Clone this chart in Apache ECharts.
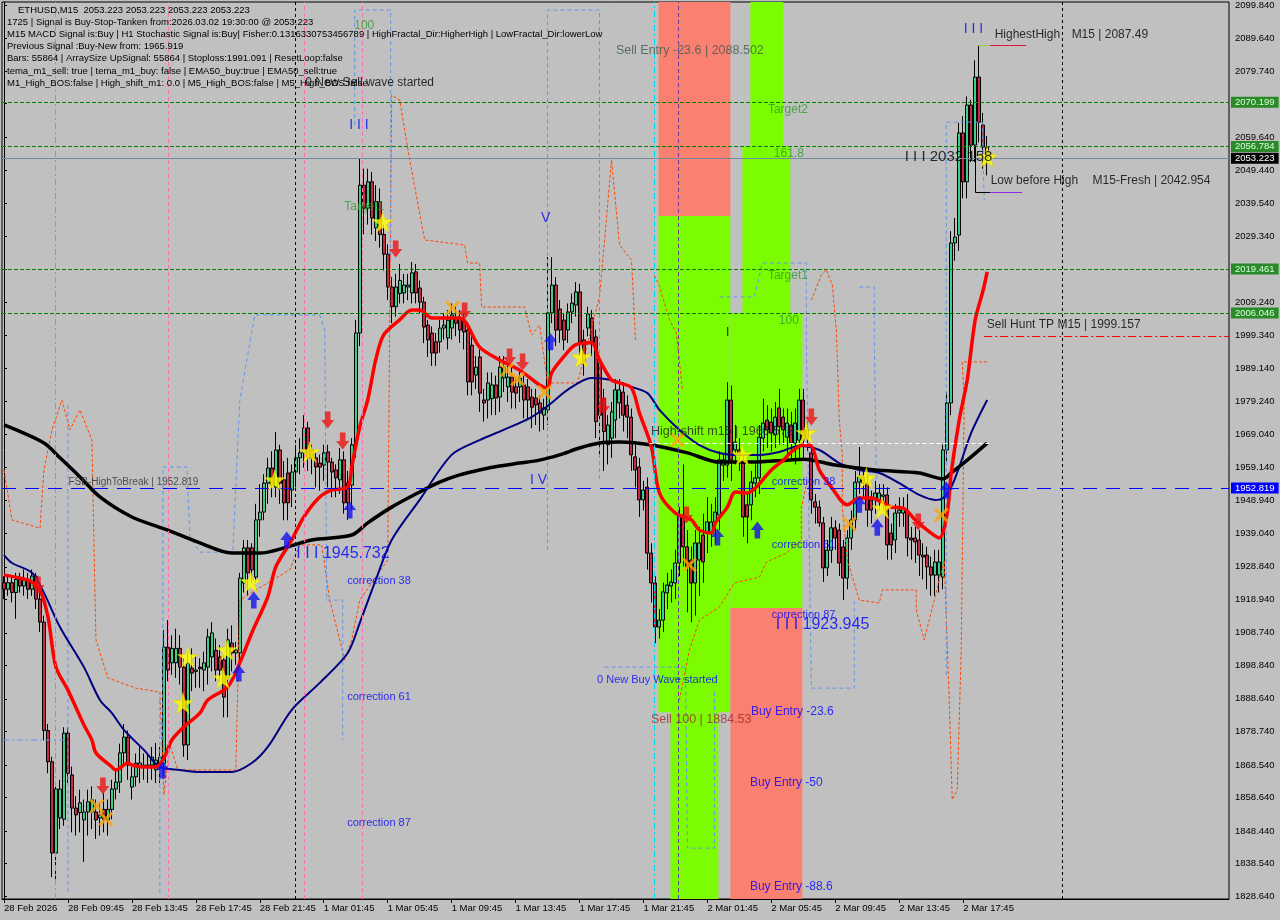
<!DOCTYPE html>
<html><head><meta charset="utf-8">
<script src="https://cdn.jsdelivr.net/npm/echarts@6/dist/echarts.min.js"></script>
<style>html,body{margin:0;padding:0;background:#c0c0c0}#c{width:1280px;height:920px}</style>
</head><body><div id="c"></div>
<script>
// ---------- data ----------
const FONT = '"Liberation Sans", Arial, sans-serif';
const startTime = Date.UTC(2026, 1, 28, 5, 45);
const slotCount = 307;
const categories = [];
for (let i = 0; i < slotCount; i++) {
  const d = new Date(startTime + i * 15 * 60000);
  categories.push(d.toISOString().slice(0, 16).replace('T', ' '));
}
const xTickLabels = ['28 Feb 2026','28 Feb 09:45','28 Feb 13:45','28 Feb 17:45','28 Feb 21:45','1 Mar 01:45','1 Mar 05:45','1 Mar 09:45','1 Mar 13:45','1 Mar 17:45','1 Mar 21:45','2 Mar 01:45','2 Mar 05:45','2 Mar 09:45','2 Mar 13:45','2 Mar 17:45'];
const yTickValues = [2099.84,2089.64,2079.74,2069.84,2059.64,2049.44,2039.54,2029.34,2019.44,2009.24,1999.34,1989.14,1979.24,1969.04,1959.14,1948.94,1939.04,1928.84,1918.94,1908.74,1898.84,1888.64,1878.74,1868.54,1858.64,1848.44,1838.54,1828.64];
const yLabelValues = [2099.84,2089.64,2079.74,2059.64,2049.44,2039.54,2029.34,2009.24,1999.34,1989.14,1979.24,1969.04,1959.14,1948.94,1939.04,1928.84,1918.94,1908.74,1898.84,1888.64,1878.74,1868.54,1858.64,1848.44,1838.54,1828.64];

// candles: [open, close, low, high]
const candles = [
[1924,1922,1919,1926],[1922,1924,1920,1926],[1924,1921,1918,1926],[1921,1925,1913,1927],[1925,1923,1921,1927],
[1923,1925,1920,1928],[1925,1922,1919,1927],[1922,1926,1920,1928],[1926,1919,1916,1927],[1919,1912,1909,1921],
[1912,1879,1876,1914],[1879,1869.5,1866,1881],[1869.5,1841.7,1834.4,1871],[1841.7,1861.2,1833,1863],[1852.4,1861.2,1849,1864],
[1852,1878.2,1850,1880],[1878.2,1866,1863,1880],[1865.5,1855.4,1848,1868],[1855.4,1853.3,1847,1859],[1854,1857,1848,1861],
[1851.8,1854.2,1839,1858],[1854.2,1857.3,1847,1861],[1854.2,1857.9,1849,1862],[1854.2,1851.8,1846,1858],[1852.4,1853.3,1847,1857],
[1855,1852,1848,1860],[1851.8,1855,1847,1858],[1855,1861.2,1852,1864],[1861.2,1863.3,1858,1867],[1863.3,1872.2,1860,1875],
[1872.2,1877,1868,1881],[1877,1868.5,1864,1879],[1861.8,1864.9,1858,1868],[1864.9,1869.1,1862,1872],[1867.9,1869.1,1863,1874],
[1867.9,1868.5,1864,1872],[1868.5,1868.2,1863,1872],[1868.5,1870.9,1864,1874],[1867,1870,1863,1875.2],[1868.5,1870.9,1863,1874],
[1869,1904.4,1865,1909.6],[1904.4,1897.4,1894,1912.6],[1899.6,1904,1896,1908],[1899.6,1904,1895,1910],[1904,1898.3,1893,1908],
[1898.3,1874.6,1871,1901],[1874.6,1899.6,1870,1903],[1898,1896.5,1891,1904],[1897,1897.4,1892,1902],[1898.3,1897.8,1892,1901],
[1897.4,1899.6,1891,1903],[1898.3,1907.5,1893,1910],[1901.4,1908.7,1897,1912],[1903.4,1897.4,1894,1907],[1901.4,1897.4,1894,1905],
[1900.5,1889.2,1883,1902],[1895,1906.6,1883,1910],[1905.6,1902.6,1897,1911],[1902.6,1903.5,1899,1906],[1902.6,1925.4,1899,1927],
[1923.9,1934.6,1921,1937],[1934.6,1927,1920,1937],[1934.6,1927.9,1924,1936],[1925.7,1943.1,1924,1948],[1943.1,1945.5,1938,1954],
[1945.5,1954.3,1943,1957],[1954.3,1958.9,1948,1962],[1958.9,1953.7,1950,1964],[1953.1,1964.4,1950,1969.9],[1964.4,1954.3,1948,1966],
[1955.3,1948.3,1943,1961],[1957.4,1948.3,1943,1962],[1952.2,1957.7,1947,1960],[1957.7,1962,1953,1966],[1962,1963.5,1957,1968],
[1963.5,1971.1,1959,1975],[1971.1,1962,1958,1973],[1964.4,1962,1957,1966],[1962,1959.2,1953,1964],[1960.4,1959.2,1952,1963],
[1959.8,1963.5,1955,1966],[1963.8,1960.7,1953,1966],[1960.7,1957.7,1950,1962],[1958.3,1955.9,1950,1960],[1955.3,1961.4,1951,1965],
[1961.4,1948.3,1945,1964],[1954.3,1948.3,1943.1,1958],[1953.7,1966,1946,1968],[1966,2000,1962,2004],[2000,2045,1996,2053],
[2045,2038,2030,2050],[2038,2046,2033,2050],[2046,2035,2030,2049],[2032,2040,2028,2045],[2040,2030,2026,2044],
[2030,2024,2019,2033],[2024,2014,2010,2027],[2014,2008,2003,2017],[2008,2014,2005,2018],[2012,2016,2009,2021],
[2012.2,2014.6,2009,2018],[2014,2014.6,2010,2018],[2012.2,2018.3,2009,2021.6],[2018.6,2012.2,2009,2021],[2013.7,2009.4,2006,2016],
[2009.4,2001.8,1996.9,2011],[2002.4,1997.9,1992.7,2004],[2000,1993.9,1990,2002],[1997.3,1993.9,1990,2000],[1997.3,2001.5,1994,2004],
[2001.5,2002.4,1998,2006],[1998.5,2003.9,1995,2007],[2001.5,2005.5,1998,2009],[2004.6,2003,1999,2008],[2004.6,2000.9,1997,2007],
[2003.9,2000.3,1995,2006],[2000.9,1985.1,1981,2003],[1996.3,1985.1,1981,1999],[1987.2,1989.6,1983,1993],[1992.7,1981.7,1976,1995],
[1979.6,1978.7,1973,1983],[1979.6,1984.8,1974,1988],[1980,1984.2,1975,1988],[1984.2,1980.2,1975,1987],[1980.5,1989.6,1976,1993],
[1986.3,1989.6,1982,1993],[1983.6,1986.6,1979,1990],[1986.6,1982,1977,1990],[1983.6,1981.7,1977,1986],[1983.6,1986.3,1979,1989],
[1984.2,1979.6,1974,1987],[1983.6,1979.6,1974,1986],[1980.5,1977.4,1971,1983],[1980.2,1978.1,1972,1983],[1978.7,1975.6,1970,1981],
[1975,1977.2,1970.5,1980],[1976.6,2006.1,1972,2023.1],[2006.1,2014.6,2003,2023.1],[2014.6,2000.9,1996,2017],[2007.3,2000.9,1997,2010],
[2003.9,1997.9,1994.8,2006],[2000.9,2006.4,1997,2009],[2006.4,2009.1,2003,2012],[2008.5,2012.5,2005,2015.5],[2012.5,1997.3,1993,2015],
[1997.9,1991,1987,2001],[2001.5,2005.8,1999,2008],[2004.6,1997,1993,2007],[1998.8,1973,1968,2001],[1990.9,1975,1962,1993],
[1980,1970,1958,1983],[1966,1972,1960,1975],[1968,1976,1962,1979],[1973.5,1982.7,1968,1986],[1978.7,1982.7,1974,1986],
[1982,1975,1970,1985],[1978,1974.4,1968,1981],[1974.4,1962.9,1958,1977],[1962.3,1958.3,1953,1966],[1959.2,1949.2,1944,1962],
[1949.2,1952.2,1946,1955],[1953.1,1933,1928,1956],[1933,1923.9,1918,1936],[1923.9,1910.5,1905.6,1926],[1910.5,1912.6,1907,1916],
[1912.6,1921.2,1909,1924],[1920.9,1923.3,1916,1927],[1923,1924.2,1918,1928],[1923.9,1930,1919,1934],[1930,1944.6,1926,1947],
[1944.6,1934.9,1929,1960],[1934.9,1928.8,1915,1940],[1930.9,1923.9,1912,1935],[1923.9,1936.1,1914,1940],[1930.9,1936.1,1920,1941],
[1938.5,1930.3,1924,1945],[1939.1,1942.5,1933,1950],[1939.4,1942.5,1935,1948],[1942.5,1945.5,1936,1950],[1944.6,1961.4,1940,1964],
[1959.8,1961.4,1955,1963],[1959.8,1979.6,1956,1985],[1979.6,1961.4,1955,1984],[1964.4,1966.8,1960,1972],[1964.4,1962.9,1958,1968],
[1960.4,1944,1938,1963],[1947.7,1944,1936,1951],[1947.7,1954.6,1943,1958],[1954.3,1955.9,1950,1960],[1955.9,1968.3,1951,1972],
[1968,1972.6,1964,1980],[1973.5,1970.5,1965,1978],[1972.9,1969.6,1964,1977],[1969,1974.4,1965,1979],[1977.2,1971.4,1966,1983],
[1974.4,1970.5,1966,1977],[1968.3,1972.6,1963,1977],[1972,1966.5,1961,1976],[1966.5,1972.6,1960,1977],[1967.4,1979.6,1962,1983],
[1979.6,1967.4,1962,1983],[1970.5,1968,1964,1973],[1963.5,1949.2,1945,1966],[1948.6,1947,1942,1951],[1947,1942.2,1941,1949],
[1942.2,1928.5,1924.2,1944],[1928.5,1933.9,1926,1937],[1933.9,1940.7,1930,1944],[1940.7,1937.6,1934,1943],[1940,1930,1926,1942],
[1934.9,1925.4,1918.7,1937],[1925.4,1937.6,1922,1940],[1937.6,1943.1,1934,1946],[1943.1,1954.6,1940,1958],[1954.6,1956.2,1951,1965.3],
[1956.2,1954.3,1950,1959],[1954.3,1946.1,1941,1957],[1949.2,1946.1,1942,1952],[1949.2,1951.3,1945,1955],[1949.2,1951.3,1946,1954],
[1950.3,1950.7,1946,1954],[1950.7,1935.5,1931,1953],[1939.1,1935.5,1931,1942],[1937,1945.2,1933,1948],[1945.2,1946.1,1941,1950],
[1945.2,1946.7,1941,1950],[1946.1,1937.6,1932,1951],[1937.6,1937,1931,1941],[1937.6,1936.4,1930,1941],[1937,1932.4,1926,1940],
[1932.4,1931.8,1925,1936],[1932.4,1928.8,1922,1935],[1928.8,1926.3,1920,1932],[1926.3,1930.3,1920,1934],[1926.3,1930.3,1921,1934],
[1925.7,1964.4,1922,1966],[1964.4,1978.7,1961,1982],[1978.7,2027.4,1975,2031],[2027.4,2029.2,2022,2035],[2029.8,2060.9,2025,2064],
[2060.9,2046,2041,2066],[2046,2069.4,2041,2072],[2069.4,2057.2,2052,2071],[2057.2,2077.9,2052,2083],[2077.9,2064.2,2058,2087.49],
[2063.3,2056.6,2050,2067],[2056.6,2053.223,2048,2060]
];

// moving averages: [barIndex, price]
const redLine = [[0,1926.3],[4,1925.4],[7,1924.2],[9,1921.8],[11,1913.6],[13,1898.3],[16,1891.3],[20,1880.7],[22,1876.1],[23,1872.2],[27,1867.9],[28,1867.0],[31,1869.1],[32,1868.5],[35,1867.9],[38,1867.9],[40,1870.6],[42,1876.1],[45,1880.1],[49,1884.3],[51,1888.3],[56,1892.3],[59,1899.6],[62,1908.7],[66,1919.7],[68,1928.8],[72,1937.0],[75,1944.0],[79,1950.1],[82,1952.2],[86,1953.1],[87,1959.2],[89,1971.4],[91,1979.6],[93,1991.8],[95,1999.4],[99,2004.0],[102,2007.0],[104,2007.0],[107,2004.6],[114,2004.6],[119,1995.7],[124,1991.8],[129,1988.7],[134,1984.2],[136,1983.3],[137,1987.8],[140,1992.7],[143,1996.4],[147,1997.0],[149,1991.8],[152,1985.7],[154,1984.8],[157,1983.3],[159,1975.6],[162,1965.3],[164,1951.3],[168,1945.2],[172,1943.1],[174,1940.0],[177,1939.1],[178,1942.2],[181,1947.0],[183,1951.6],[186,1951.3],[188,1952.8],[192,1958.3],[195,1961.3],[197,1963.8],[200,1965.9],[202,1965.6],[204,1958.3],[207,1953.1],[211,1947.7],[214,1949.8],[217,1949.8],[222,1947.0],[225,1946.7],[228,1943.1],[231,1940.0],[234,1937.6],[236,1945.2],[237,1957.4],[239,1973.5],[241,1985.7],[243,2004.0],[245,2013.1],[246,2018.6]];
const navyLine = [[0,1932.4],[2,1930.0],[7,1927.0],[10,1920.9],[14,1910.5],[20,1898.3],[24,1888.3],[27,1884.3],[30,1879.2],[35,1873.1],[39,1867.9],[44,1867.0],[49,1866.4],[57,1866.4],[62,1869.1],[66,1874.0],[72,1885.3],[79,1893.5],[86,1902.6],[89,1911.7],[93,1924.8],[97,1937.0],[104,1949.2],[112,1962.9],[119,1967.4],[125,1970.5],[132,1974.4],[137,1978.7],[141,1982.7],[147,1986.3],[152,1985.7],[157,1983.6],[161,1981.7],[164,1976.6],[169,1970.5],[174,1965.9],[179,1963.5],[184,1962.9],[189,1962.9],[194,1963.8],[199,1965.6],[204,1964.4],[209,1960.4],[214,1958.3],[219,1957.4],[224,1954.3],[229,1950.7],[233,1949.2],[235,1949.8],[237,1953.1],[239,1959.2],[242,1969.6],[246,1979.6]];
const blackLine = [[0,1972.0],[10,1966.5],[14,1962.0],[19,1956.2],[24,1950.1],[32,1944.0],[41,1940.0],[49,1936.1],[57,1933.0],[64,1933.0],[71,1934.9],[77,1937.0],[87,1938.5],[91,1942.2],[97,1947.0],[104,1951.6],[109,1954.6],[114,1956.8],[119,1958.3],[124,1959.5],[129,1960.4],[134,1961.3],[139,1962.9],[144,1965.0],[149,1966.5],[154,1966.8],[162,1965.9],[171,1963.5],[179,1960.7],[187,1960.7],[196,1961.3],[200,1961.6],[208,1959.8],[218,1958.3],[229,1957.4],[235,1955.6],[237,1957.4],[241,1961.3],[246,1966.5]];

// thin dashed channel lines (bar position, price)
const orangePaths = [
 [[0,1958.3],[2,1943.1],[9,1940.6],[10,1958.3],[12,1970.5],[14.5,1979.6],[16.5,1970.5],[19,1976.6],[22,1967.4],[23,1906.6],[26,1895.0],[33,1891.9],[39,1890.7],[40,1859.4],[41.5,1874.6],[43.5,1867.0],[58,1867.0],[59,1918.7],[63,1921.8],[71.5,1927.9],[74,1935.5],[79.5,1935.5],[81.5,1918.7],[85.25,1900.5],[87,1906.6],[89,1918.7],[96,1930.9],[97,2072.4],[99,2070.9],[101.5,2052.7],[105.25,2028.3],[115.25,2026.8],[116,2021.3],[119,2021.3],[119.5,2007.9],[130.25,2007.9],[132,1999.4],[134,2002.4],[136,1984.8],[143.5,1984.8],[149,2011.0],[150.5,2031.4],[152,2052.7],[154,2026.8],[157,2022.2],[158,1997.9]],
 [[162.75,2017.5],[164,2014.2],[166.5,2004.0],[168.25,2000.0],[169.75,1982.7]],
 [[169,1888.3],[171.5,1903.5],[174,1912.6],[179,1916.6],[182.75,1923.9],[189,1925.7],[190.75,1930.3],[195.75,1933.0],[199.5,1937.0],[199.5,1946.7],[201,1955.3]],
 [[202,2010.0],[204.5,2017.7],[205.75,2019.2],[207.25,2014.6],[208.25,2000.9],[209,1973.5],[209.75,1962.9],[209.75,1947.0],[211,1930.9],[214,1918.7],[219,1917.8],[219.75,1921.8],[228.25,1921.8],[228.25,1915.7],[230.25,1906.6],[232.75,1918.7],[235.25,1930.9],[236.5,1888.3],[237.25,1857.9],[238.5,1860.9],[239.5,1903.5],[240.25,1979.6],[239.75,1991.2],[246.5,1991.2]]
];
const bluePaths = [
 [[-0.25,1876.1],[15.25,1876.1]],
 [[16,1978.1],[16,1829.0]],
 [[39,1888.3],[39,1829.0]],
 [[39.75,1876.1],[39.75,1959.2],[45.75,1959.2],[46.5,1937.9],[49,1933.3],[57.25,1933.3],[59,1979.6],[62.75,2005.5],[79,2005.5],[80.25,2000.9],[80.75,1918.7],[84.75,1918.7],[84.75,1876.1]],
 [[87.75,2063.3],[87.75,2098.3],[96.75,2098.3],[96.75,2022.2]],
 [[136,1933.9],[136,2098.3],[149,2098.3],[149,1955.3]],
 [[179,2011.0],[187.75,2011.0],[189.75,2021.3],[200.75,2021.3],[200.75,1997.9],[202,1891.9],[212.75,1891.9],[212.75,1918.7]],
 [[214,2014.0],[217.75,2014.0],[217.75,1997.9],[218.25,1955.3]],
 [[235.75,1895.9],[235.75,2064.2],[244.75,2064.2],[245.25,2040.5]],
 [[150.25,1898.3],[170.5,1898.3],[171,1843.2],[177.75,1843.2],[177.75,1891.3]]
];

// signal markers [barPosition, price]
const sellArrows = [[8.5,1923.3],[24.75,1862.1],[81,1973.5],[84.75,1967.1],[98,2025.6],[115.25,2006.7],[126.5,1992.7],[129.75,1991.2],[150,1977.8],[170.75,1944.6],[202,1974.4],[228.75,1942.5]];
const buyArrows = [[39.75,1867.0],[58.75,1896.5],[62.5,1918.7],[70.75,1937.0],[86.5,1946.1],[136.75,1997.3],[178.5,1937.9],[188.5,1940.0],[214,1947.9],[218.5,1940.9],[235.75,1952.2]];
const stars = [[44.75,1887.4],[46,1901.4],[54.75,1895.0],[55.75,1903.5],[61.75,1924.2],[67.75,1955.3],[76.5,1963.8],[94.75,2033.8],[144.5,1992.7],[184.75,1962.9],[200.75,1969.6],[215.75,1955.9],[219.75,1946.7],[246,2053.6]];
const crosses = [[23.25,1856.0],[25.5,1852.1],[112.25,2007.6],[125.75,1988.7],[128.5,1986.0],[135.25,1982.0],[168.5,1967.4],[171.5,1929.4],[211.5,1941.9],[234.5,1944.6]];

// zones: [x1, x2, priceTop, priceBottom, color]
const zones = [
 [163.75,181.75,2100.75,2035.6,'#fa8072'],
 [163.75,181.75,2035.6,1884.53,'#7cfc00'],
 [166.75,178.75,1884.53,1827.72,'#7cfc00'],
 [186.75,195.0,2100.75,2056.784,'#7cfc00'],
 [184.75,196.75,2056.784,2006.046,'#7cfc00'],
 [181.75,199.75,2006.046,1916.3,'#7cfc00'],
 [181.75,199.75,1916.3,1827.72,'#fa8072']
];
// level lines [price, lineColor, dash, boxColor, boxText]
const levels = [
 [2070.199,'#008000','dashed','#2a8a2a','#d8ffd8'],
 [2056.784,'#008000','dashed','#2a8a2a','#d8ffd8'],
 [2053.223,'#778899','solid','#000000','#ffffff'],
 [2019.461,'#008000','dashed','#2a8a2a','#d8ffd8'],
 [2006.046,'#008000','dashed','#2a8a2a','#d8ffd8'],
 [1952.819,'#0000ff',[14,9],'#0000ff','#ffffff']
];
// vertical separators [barPosition, color, dash]
const vLines = [[72.75,'#000000',[3,3]],[264.75,'#000000',[3,3]],[12.75,'#00d8e8',[6,3,2,3]],[162.75,'#00d8e8',[6,3,2,3]],[41,'#ff6eb4',[4,3]],[75,'#ff6eb4',[4,3]],[89.75,'#ff6eb4',[4,3]],[168.75,'#6a3d9a',[4,3]]];
// short segments [x1, x2, price1, price2, color, dash, width]
const segments = [
 [161.5,246.5,1966.578,1966.578,'#ffffff',[4,3],1],
 [245.25,306.5,1999.157,1999.157,'#ff0000',[8,3,2,3],1],
 [243.75,246.75,2087.49,2087.49,'#9acd32','solid',1],
 [246.75,255.75,2087.49,2087.49,'#dc143c','solid',1],
 [243,246.75,2042.954,2042.954,'#000000','solid',1],
 [246.75,254.75,2042.954,2042.954,'#8a2be2','solid',1],
 [243,243,2057,2042.954,'#000000','solid',1]
];
// annotations [barPosition(left edge), price(center), text, color, fontSize]
const GREEN = '#2f9a2f', BLUE = '#0000ff';
const annotations = [
 [87.5,2093.4,'100',GREEN,12],
 [75.25,2076.1,'0 New Sell wave started','#000000',12],
 [86.25,2063.3,'I I I',BLUE,14],
 [85,2038.4,'Target1',GREEN,12],
 [73,1933.0,'I I I 1945.732',BLUE,16],
 [85.75,1924.5,'correction 38',BLUE,11],
 [85.75,1889.2,'correction 61',BLUE,11],
 [85.75,1850.8,'correction 87',BLUE,11],
 [16,1954.6,'FSB-HighToBreak | 1952.819','#303030',10],
 [153,2086.1,'Sell Entry -23.6 | 2088.502','#3d5a4a',12.5],
 [191,2067.9,'Target2',GREEN,12],
 [192.5,2054.5,'161.8',GREEN,12],
 [191,2017.4,'Target1',GREEN,12],
 [193.75,2003.7,'100',GREEN,12],
 [134.25,2035.0,'V',BLUE,14],
 [131.5,1955.3,'I V',BLUE,14],
 [180.5,2000.0,'I','#000000',12],
 [161.75,1969.9,'High-shift m15 | 1966.578','#202020',12.5],
 [192,1954.6,'correction 38',BLUE,11],
 [192,1935.5,'correction 61',BLUE,11],
 [192,1914.2,'correction 87',BLUE,11],
 [193,1911.1,'I I I 1923.945',BLUE,16],
 [148.25,1894.4,'0 New Buy Wave started',BLUE,11],
 [161.75,1882.2,'Sell 100 | 1884.53','#a02828',12.5],
 [186.75,1884.6,'Buy Entry -23.6',BLUE,12],
 [186.5,1863.0,'Buy Entry -50',BLUE,12],
 [186.5,1831.4,'Buy Entry -88.6',BLUE,12],
 [240,2092.5,'I I I',BLUE,14],
 [247.75,2090.7,'HighestHigh','#000000',12],
 [267,2090.7,'M15 | 2087.49','#000000',12],
 [225.25,2053.6,'I I I 2032.158','#000000',15],
 [246.75,2046.3,'Low before High','#000000',12],
 [272.25,2046.3,'M15-Fresh | 2042.954','#000000',12],
 [245.75,2002.4,'Sell Hunt TP M15 | 1999.157','#000000',12]
];
const infoLines = [
 'ETHUSD,M15  2053.223 2053.223 2053.223 2053.223',
 '1725 | Signal is Buy-Stop-Tanken from:2026.03.02 19:30:00 @ 2053.223',
 'M15 MACD Signal is:Buy | H1 Stochastic Signal is:Buy| Fisher:0.1316330753456789 | HighFractal_Dir:HigherHigh | LowFractal_Dir:lowerLow',
 'Previous Signal :Buy-New from: 1965.919',
 'Bars: 55864 | ArraySize UpSignal: 55864 | Stoploss:1991.091 | ResetLoop:false',
 'tema_m1_sell: true | tema_m1_buy: false | EMA50_buy:true | EMA50_sell:true',
 'M1_High_BOS:false | High_shift_m1: 0.0 | M5_High_BOS:false | M5_High_BOS:false'
];

// ---------- chart ----------
const chart = echarts.init(document.getElementById('c'), null, {renderer: 'canvas'});
const tickFn = (idx) => idx % 16 === 0 && idx / 16 < xTickLabels.length;
const series = [];

series.push({type: 'line', xAxisIndex: 1, data: [], z: 1, silent: true,
  markArea: {silent: true, data: zones.map(z => [{xAxis: z[0], yAxis: z[2], itemStyle: {color: z[4], opacity: 1}}, {xAxis: z[1], yAxis: z[3]}])}});

series.push({type: 'candlestick', xAxisIndex: 0, data: candles, barWidth: 3.5, z: 2,
  itemStyle: {color: '#3ccf8a', color0: '#c42a44', borderColor: '#000', borderColor0: '#000', borderWidth: 1}});

orangePaths.forEach(p => series.push({type: 'line', xAxisIndex: 1, data: p, symbol: 'none', z: 3, silent: true,
  lineStyle: {color: '#ff4500', width: 1, type: [3, 2]}}));
bluePaths.forEach((p, k) => series.push({type: 'line', xAxisIndex: 1, data: p, symbol: 'none', z: 3, silent: true,
  lineStyle: {color: '#6495ed', width: 1, type: k === 0 ? [6, 3, 2, 3] : [4, 3]}}));

const mlData = [];
vLines.forEach(v => mlData.push({xAxis: v[0], lineStyle: {color: v[1], type: v[2], width: 1}, label: {show: false}}));
levels.forEach(l => mlData.push({yAxis: l[0], lineStyle: {color: l[1], type: l[2], width: 1},
  label: {show: true, position: 'end', distance: 2, formatter: l[0].toFixed(3), color: l[4], backgroundColor: l[3],
    padding: [1, 4, 0, 4], fontSize: 9.5, fontFamily: FONT}}));
segments.forEach(s => mlData.push([{coord: [s[0], s[2]], lineStyle: {color: s[4], type: s[5], width: s[6]}, label: {show: false}}, {coord: [s[1], s[3]]}]));
series.push({type: 'line', xAxisIndex: 1, data: [], z: 3, silent: true,
  markLine: {silent: true, symbol: ['none', 'none'], animation: false, label: {show: false}, data: mlData}});

series.push({type: 'line', xAxisIndex: 1, data: navyLine, symbol: 'none', smooth: 0.3, z: 4, lineStyle: {color: '#000080', width: 2}});
series.push({type: 'line', xAxisIndex: 1, data: blackLine, symbol: 'none', smooth: 0.3, z: 4, lineStyle: {color: '#000000', width: 3.5}});
series.push({type: 'line', xAxisIndex: 1, data: redLine, symbol: 'none', smooth: 0.3, z: 4, lineStyle: {color: '#ff0000', width: 3.5}});

const downArrow = 'path://M4,0 L10,0 L10,8 L14,8 L7,16 L0,8 L4,8 Z';
const upArrow = 'path://M7,0 L14,8 L10,8 L10,16 L4,16 L4,8 L0,8 Z';
const starPath = 'path://M50,0 L61,35 L98,35 L68,57 L79,91 L50,70 L21,91 L32,57 L2,35 L39,35 Z';
const crossPath = 'path://M0,2 L2,0 L7,5 L12,0 L14,2 L9,7 L14,12 L12,14 L7,9 L2,14 L0,12 L5,7 Z';
series.push({type: 'scatter', xAxisIndex: 1, data: sellArrows, symbol: downArrow, symbolSize: [13, 17], z: 5, itemStyle: {color: '#ee1111'}});
series.push({type: 'scatter', xAxisIndex: 1, data: buyArrows, symbol: upArrow, symbolSize: [13, 17], z: 5, itemStyle: {color: '#1111ee'}});
series.push({type: 'scatter', xAxisIndex: 1, data: crosses, symbol: crossPath, symbolSize: 15, z: 5, itemStyle: {color: '#ffa500'}});
series.push({type: 'scatter', xAxisIndex: 1, data: stars, symbol: starPath, symbolSize: 21, z: 5, itemStyle: {color: '#ffff00', borderColor: '#d8c800', borderWidth: 0.5}});

series.push({type: 'scatter', xAxisIndex: 1, z: 6, symbolSize: 1, silent: true, itemStyle: {color: 'rgba(0,0,0,0)'},
  data: annotations.map(a => ({value: [a[0], a[1]], label: {show: true, position: 'right', distance: 0, formatter: a[2],
    color: a[3], fontSize: a[4], fontFamily: FONT, verticalAlign: 'middle', align: 'left'}}))});

const option = {
  animation: false,
  backgroundColor: '#c0c0c0',
  grid: {left: 2, right: 51, top: 2, bottom: 21, show: true, borderColor: '#000', borderWidth: 1, backgroundColor: '#c0c0c0', containLabel: false, outerBoundsMode: 'none'},
  xAxis: [
    {type: 'category', data: categories, boundaryGap: true,
      axisLine: {show: true, lineStyle: {color: '#000', width: 1}},
      axisTick: {show: true, alignWithLabel: true, interval: tickFn, length: 4, lineStyle: {color: '#000'}},
      axisLabel: {show: true, interval: tickFn, formatter: (v, idx) => xTickLabels[idx / 16] || '', align: 'left', margin: 4,
        color: '#000', fontSize: 9.5, fontFamily: FONT},
      splitLine: {show: false}},
    {type: 'value', min: -0.5, max: 306.5, show: false, splitLine: {show: false}}
  ],
  yAxis: {type: 'value', position: 'right', min: 1827.72, max: 2100.75, scale: true,
    axisLine: {show: true, lineStyle: {color: '#000', width: 1}},
    axisTick: {show: true, inside: false, length: 3, customValues: yTickValues, lineStyle: {color: '#000'}},
    axisLabel: {show: true, customValues: yLabelValues, formatter: v => v.toFixed(3), margin: 6, color: '#000', fontSize: 9.5, fontFamily: FONT},
    splitLine: {show: false}},
  graphic: infoLines.map((t, k) => ({type: 'text', x: k === 0 ? 18 : 7, y: 10 + k * 12.2, z: 100,
    style: {text: t, fill: '#000', fontSize: 9.5, fontFamily: FONT, verticalAlign: 'middle'}})),
  series: series
};
chart.setOption(option);
</script>
</body></html>
